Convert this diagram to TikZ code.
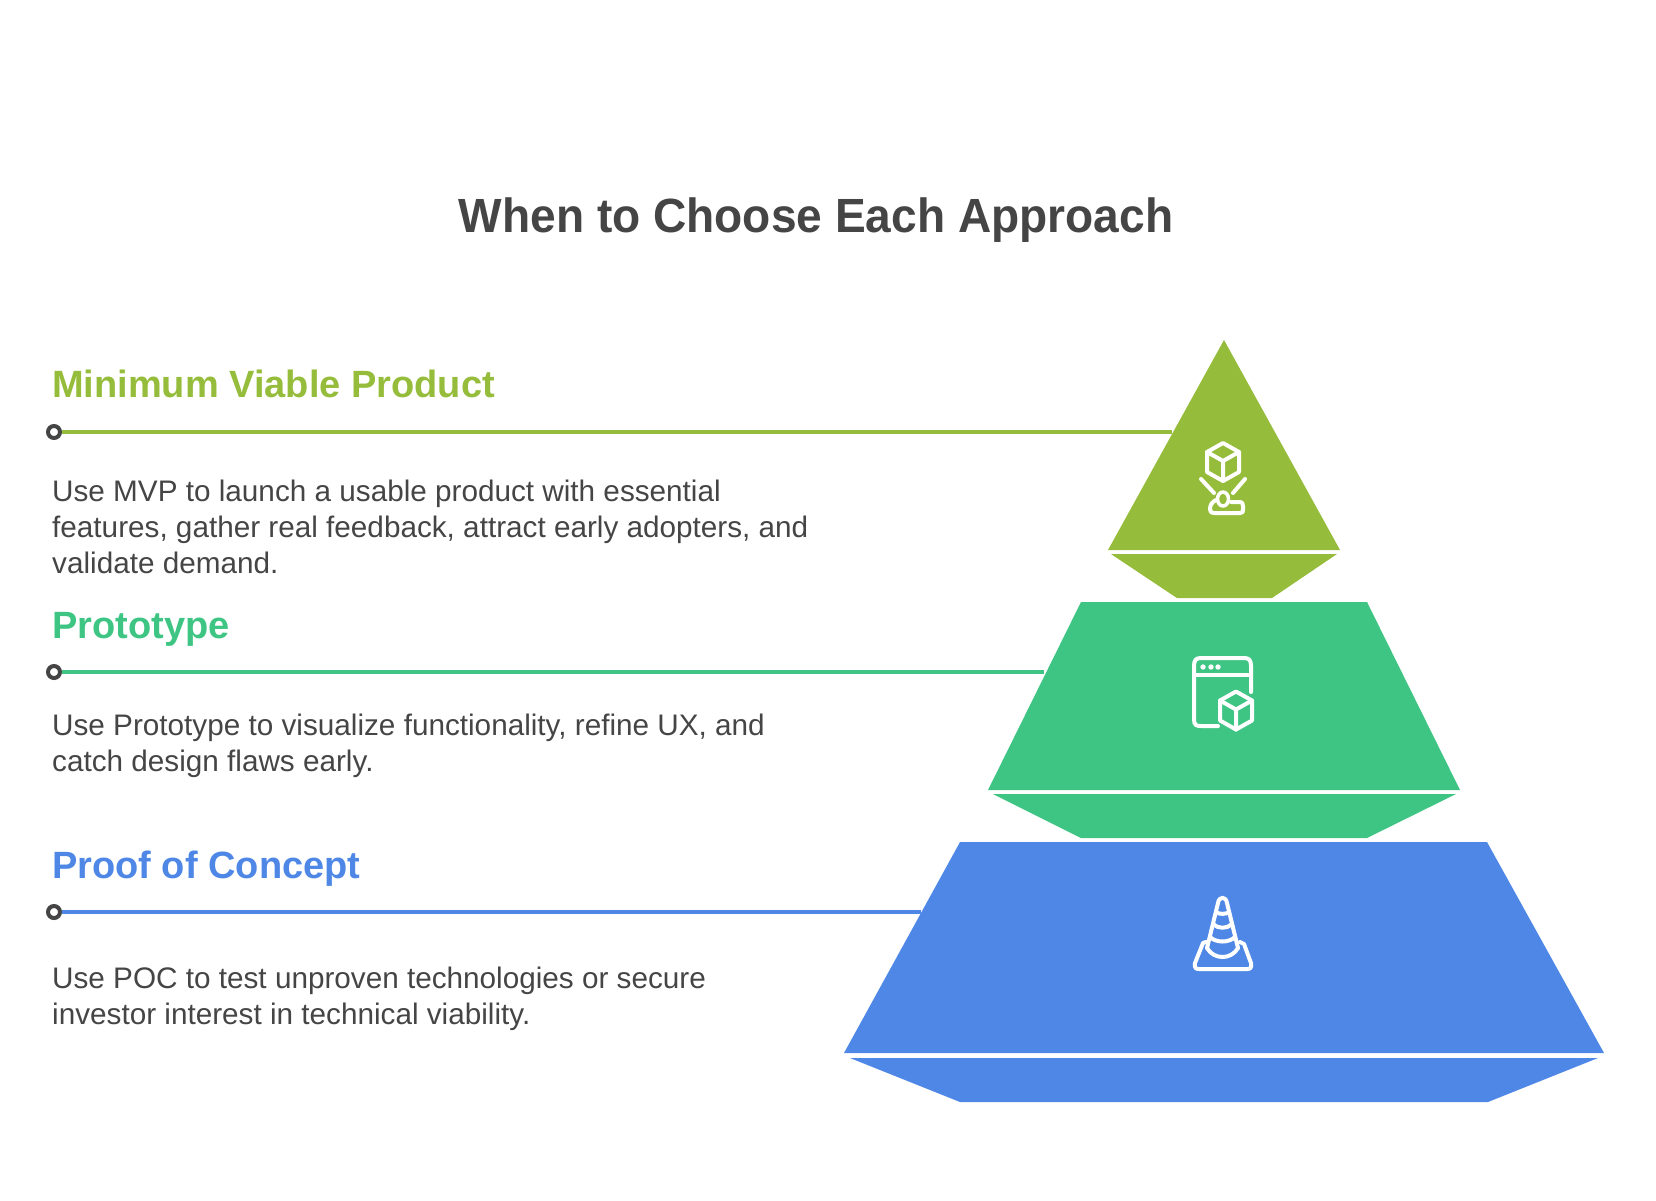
\documentclass[tikz,border=0pt]{standalone}
\usepackage{fontspec}
\setmainfont{Liberation Sans}
\newfontfamily\titlefont[FakeStretch=0.96]{Liberation Sans}

\definecolor{mvpcolor}{HTML}{95BC3A}
\definecolor{protocolor}{HTML}{3EC583}
\definecolor{poccolor}{HTML}{4E87E6}
\definecolor{inkcolor}{HTML}{454545}

\tikzset{
	titletext/.style={anchor=base, inner sep=0, text=inkcolor, font=\titlefont\bfseries\fontsize{48}{56}\selectfont},
	headtext/.style={anchor=base west, inner sep=0, font=\bfseries\fontsize{38}{46}\selectfont},
	bodytext/.style={anchor=north west, inner sep=0, align=left, text=inkcolor, font=\fontsize{29.7}{36}\selectfont},
	dotnode/.style={draw=inkcolor, circle, line width=4pt, fill=white, inner sep=0, minimum size=12pt},
	leader/.style={line width=4pt},
	iconline/.style={draw=white, line width=4pt, line cap=round, line join=round},
	cubeicon/.pic={
		\draw[iconline] (0,-19) -- (16,-10) -- (16,10) -- (0,19) -- (-16,10) -- (-16,-10) -- cycle;
		\draw[iconline] (-16,-10) -- (0,-1) -- (16,-10) (0,-1) -- (0,19);
	}
}

\begin{document}
\begin{tikzpicture}[x=1pt, y=-1pt]
		
		\useasboundingbox (0,0) rectangle (1656,1200);
		
		\node [titletext] (title) at (816,232) {When to Choose Each Approach};
		
		% Pyramid
		\fill [mvpcolor] (1224,340) -- (1340,550) -- (1108,550) -- cycle;
		
		\fill [mvpcolor] (1111,554) -- (1337,554) -- (1272,598) -- (1177,598) -- cycle;
		
		\fill [protocolor] (1081,602) -- (1367,602) -- (1460,790) -- (988,790) -- cycle;
		
		\fill [protocolor] (993,794) -- (1456,794) -- (1367,838) -- (1081,838) -- cycle;
		
		\fill [poccolor] (960,842) -- (1487,842) -- (1604,1053) -- (844,1053) -- cycle;
		
		\fill [poccolor] (850,1058) -- (1598,1058) -- (1488,1102) -- (960,1102) -- cycle;
		
		% Minimum Viable Product
		\node [headtext, text=mvpcolor] (mvphead) at (52,397) {Minimum Viable Product};
		
		\coordinate (mvpend) at (1172,432);
		
		\node [dotnode] (mvpdot) at (54,432) {};
		
		\draw [leader, draw=mvpcolor] (mvpdot) -- (mvpend);
		
		\node [bodytext] (mvpbody) at (52,480) {Use MVP to launch a usable product with essential\\features, gather real feedback, attract early adopters, and\\validate demand.};
		
		% Prototype
		\node [headtext, text=protocolor] (protohead) at (52,638) {Prototype};
		
		\coordinate (protoend) at (1044,672);
		
		\node [dotnode] (protodot) at (54,672) {};
		
		\draw [leader, draw=protocolor] (protodot) -- (protoend);
		
		\node [bodytext] (protobody) at (52,714) {Use Prototype to visualize functionality, refine UX, and\\catch design flaws early.};
		
		% Proof of Concept
		\node [headtext, text=poccolor] (pochead) at (52,878) {Proof of Concept};
		
		\coordinate (pocend) at (921,912);
		
		\node [dotnode] (pocdot) at (54,912) {};
		
		\draw [leader, draw=poccolor] (pocdot) -- (pocend);
		
		\node [bodytext] (pocbody) at (52,967) {Use POC to test unproven technologies or secure\\investor interest in technical viability.};
		
		% Icons
		\pic at (1223,462) {cubeicon};
		
		\draw [iconline] (1201,479) -- (1214,493) (1245,479) -- (1233,493);
		
		\draw [iconline, line width=3.5pt] (1223,499) circle [x radius=5.5, y radius=7];
		
		\draw [iconline] (1216,500) .. controls (1212,502) and (1210,505) .. (1210,509) .. controls (1210,512) and (1211,513) .. (1214,513) -- (1240,513) .. controls (1243,513) and (1243,512) .. (1243,509) -- (1243,506) .. controls (1243,503) and (1242,502) .. (1240,502) -- (1231,502);
		
		\draw [iconline] (1251,692) -- (1251,666) .. controls (1251,660) and (1249,658) .. (1244,658) -- (1201,658) .. controls (1196,658) and (1194,660) .. (1194,666) -- (1194,719) .. controls (1194,725) and (1196,726) .. (1201,726) -- (1218,726);
		
		\draw [iconline] (1194,675) -- (1251,675);
		
		\foreach \dotx in {1203,1211,1218}
		\fill [white] (\dotx,667) circle [radius=2.7];
		
		\pic at (1236,710.5) {cubeicon};
		
		\draw [iconline] (1207,948) -- (1218,903) .. controls (1219,896) and (1226,896) .. (1227,903) -- (1238,948);
		
		\draw [iconline] (1216,912) .. controls (1219,914.5) and (1226,914.5) .. (1229,912);
		
		\draw [iconline] (1213,924) .. controls (1218,929) and (1227,929) .. (1232,924);
		
		\draw [iconline] (1210,937) .. controls (1216,943) and (1229,943) .. (1235,937);
		
		\draw [iconline] (1207,948) .. controls (1214,960) and (1231,960) .. (1238,948);
		
		\draw [iconline] (1206,942) -- (1203,943) -- (1195,963) .. controls (1194,968) and (1196,969) .. (1199,969) -- (1247,969) .. controls (1250,969) and (1252,968) .. (1251,963) -- (1244,944) -- (1240,942);
		
	\end{tikzpicture}
\end{document}
